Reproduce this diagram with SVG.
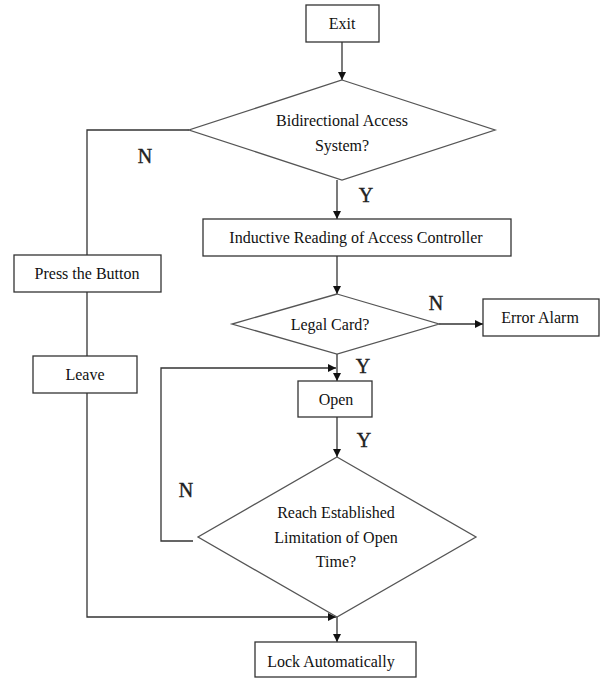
<svg xmlns="http://www.w3.org/2000/svg" width="600" height="678" viewBox="0 0 600 678">
<style>
.box{fill:#fff;stroke:#333;stroke-width:1.3}
.dia{fill:#fff;stroke:#555;stroke-width:1.3}
.t{font-family:"Liberation Serif","Times New Roman",serif;font-size:16px;fill:#111;text-anchor:middle}
.lbl{font-family:"Liberation Serif","Times New Roman",serif;font-size:20px;fill:#222;stroke:#222;stroke-width:0.4;text-anchor:middle}
.ln{fill:none;stroke:#333;stroke-width:1.3}
</style>
<defs>
<marker id="ah" viewBox="0 0 10 10" refX="10" refY="5" markerWidth="9" markerHeight="8" markerUnits="userSpaceOnUse" orient="auto">
<path d="M0,0 L10,5 L0,10 z" fill="#111"/>
</marker>
</defs>
<rect width="600" height="678" fill="#fff"/>
<g id="connectors">
<path class="ln" d="M342,42 V80" marker-end="url(#ah)"/>
<path class="ln" d="M337,180 V219" marker-end="url(#ah)"/>
<path class="ln" d="M337,256 V294" marker-end="url(#ah)"/>
<path class="ln" d="M439,324 H483" marker-end="url(#ah)"/>
<path class="ln" d="M337,354 V381" marker-end="url(#ah)"/>
<path class="ln" d="M337,417 V457" marker-end="url(#ah)"/>
<path class="ln" d="M193,541 H161 V368 H336" marker-end="url(#ah)"/>
<path class="ln" d="M189,130 H87 V255"/>
<path class="ln" d="M87,292 V356"/>
<path class="ln" d="M87,393 V617 H336" marker-end="url(#ah)"/>
<path class="ln" d="M337,617 V642" marker-end="url(#ah)"/>
<text class="lbl" x="145" y="163">N</text>
<text class="lbl" x="366" y="202">Y</text>
<text class="lbl" x="436" y="310">N</text>
<text class="lbl" x="363" y="373">Y</text>
<text class="lbl" x="364" y="447">Y</text>
<text class="lbl" x="186" y="497">N</text>
</g>
<g id="exit">
<rect class="box" x="306" y="5" width="73" height="37"/>
<text class="t" x="342" y="29">Exit</text>
</g>
<g id="bidirectional">
<polygon class="dia" points="342,80 495,130 342,180 189,130"/>
<text class="t" x="342" y="126">Bidirectional Access</text>
<text class="t" x="342" y="151">System?</text>
</g>
<g id="inductive">
<rect class="box" x="203" y="219" width="308" height="37"/>
<text class="t" x="356" y="243">Inductive Reading of Access Controller</text>
</g>
<g id="press">
<rect class="box" x="14" y="255" width="147" height="37"/>
<text class="t" x="87" y="279">Press the Button</text>
</g>
<g id="legal">
<polygon class="dia" points="337,294 439,324 337,354 232,324"/>
<text class="t" x="330" y="330">Legal Card?</text>
</g>
<g id="error">
<rect class="box" x="483" y="299" width="116" height="37"/>
<text class="t" x="540" y="323">Error Alarm</text>
</g>
<g id="leave">
<rect class="box" x="33" y="356" width="104" height="37"/>
<text class="t" x="85" y="380">Leave</text>
</g>
<g id="open">
<rect class="box" x="298" y="381" width="74" height="36"/>
<text class="t" x="336" y="405">Open</text>
</g>
<g id="reach">
<polygon class="dia" points="337,457 476,537 337,617 198,537"/>
<text class="t" x="336" y="518">Reach Established</text>
<text class="t" x="336" y="543">Limitation of Open</text>
<text class="t" x="336" y="567">Time?</text>
</g>
<g id="lock">
<rect class="box" x="255" y="642" width="161" height="35"/>
<text class="t" x="331" y="667">Lock Automatically</text>
</g>
</svg>
